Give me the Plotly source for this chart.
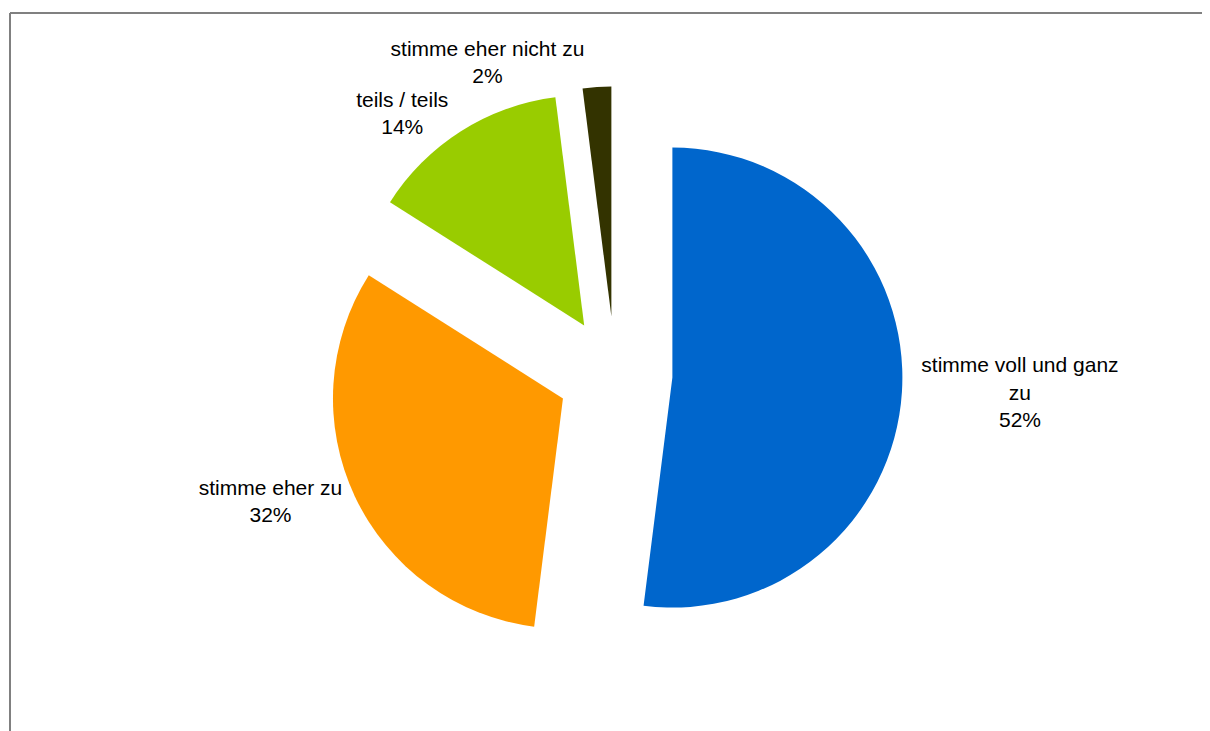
import plotly.graph_objects as go

categories = ["stimme voll und ganz zu", "stimme eher zu", "teils / teils", "stimme eher nicht zu"]
display_labels = ["stimme voll und ganz<br>zu", "stimme eher zu", "teils / teils", "stimme eher nicht zu"]
values = [52, 32, 14, 2]
colors = ["#0066CC", "#FF9900", "#99CC00", "#333300"]

W, H = 1210, 731

fig = go.Figure(go.Pie(
    labels=categories,
    values=values,
    text=display_labels,
    texttemplate="%{text}<br>%{percent}",
    textposition="outside",
    sort=False,
    direction="clockwise",
    rotation=0,
    pull=[0.25, 0.25, 0.25, 0.25],
    marker=dict(colors=colors, line=dict(width=0)),
    outsidetextfont=dict(family="Liberation Sans, Arial, sans-serif", size=21, color="#000000"),
    showlegend=False,
    domain=dict(x=[4 / W, 1.0], y=[1 - 653.5 / H, 1 - 78.5 / H]),
    hoverinfo="label+percent",
))

frame = dict(color="#808080", width=2)
fig.update_layout(
    width=W, height=H,
    margin=dict(t=0, b=0, l=0, r=0, autoexpand=False),
    paper_bgcolor="white",
    plot_bgcolor="white",
    shapes=[
        dict(type="line", xref="paper", yref="paper", x0=2 / W, x1=1.0, y0=1 - 5 / H, y1=1 - 5 / H, line=frame),
        dict(type="line", xref="paper", yref="paper", x0=2 / W, x1=2 / W, y0=1 - 5 / H, y1=0, line=frame),
    ],
)

fig.write_html("out.html")
